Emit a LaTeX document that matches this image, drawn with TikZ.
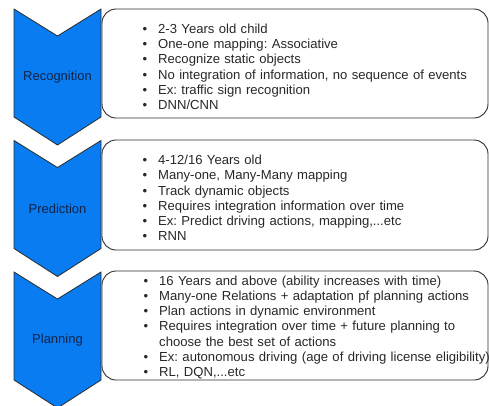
\documentclass[tikz,border=0pt]{standalone}
\usepackage{fontspec}
\setmainfont{Liberation Sans}
\frenchspacing
\definecolor{chev}{RGB}{8,124,240}
\definecolor{edgec}{RGB}{45,45,45}
\definecolor{txt}{RGB}{40,40,40}
\definecolor{lbl}{RGB}{20,35,70}
\newcommand{\bitem}[1]{\par\hangindent=15.5bp\hangafter=1\noindent\makebox[15.5bp][l]{\textbullet}#1}
\begin{document}
\begin{tikzpicture}[x=1bp,y=-1bp,
  chevron/.style={fill=chev,draw=edgec,line width=0.8bp,line join=miter},
  infobox/.style={draw=edgec,line width=0.9bp,rounded corners=14bp,fill=white},
  lbltext/.style={font=\fontsize{13bp}{15bp}\selectfont,text=lbl,inner sep=0pt},
  items/.style={anchor=west,inner sep=0pt,text width=370bp,align=left,
    font=\fontsize{13.1bp}{15.2bp}\selectfont,text=txt}]
\useasboundingbox (0,0) rectangle (489,405);
% chevrons
\foreach \t/\n/\l in {9/rec/Recognition,140.5/pre/Prediction,272/pla/Planning}{
  \draw[chevron] (14,\t) -- (57.5,\t+27) -- (101,\t) -- (101,\t+108)
     -- (57.5,\t+136) -- (14,\t+108) -- cycle;
  \node[lbltext] (\n) at (57.5,\t+68) {\l};
}
% boxes
\draw[infobox] (102,9) rectangle (488,118);
\draw[infobox] (102,140) rectangle (488,250);
\draw[infobox] (102,271) rectangle (488,380);
% texts
\node[items] (t1) at (142.5,64) {%
\bitem{2-3 Years old child}
\bitem{One-one mapping: Associative}
\bitem{Recognize static objects}
\bitem{No integration of information, no sequence of events}
\bitem{Ex: traffic sign recognition}
\bitem{DNN/CNN}};
\node[items] (t2) at (142.5,195) {%
\bitem{4-12/16 Years old}
\bitem{Many-one, Many-Many mapping}
\bitem{Track dynamic objects}
\bitem{Requires integration information over time}
\bitem{Ex: Predict driving actions, mapping,...etc}
\bitem{RNN}};
\node[items] (t3) at (143.5,324.5) {%
\bitem{16 Years and above (ability increases with time)}
\bitem{Many-one Relations + adaptation pf planning actions}
\bitem{Plan actions in dynamic environment}
\bitem{Requires integration over time + future planning to\newline choose the best set of actions}
\bitem{Ex: autonomous driving (age of driving license eligibility)}
\bitem{RL, DQN,...etc}};
\end{tikzpicture}
\end{document}
